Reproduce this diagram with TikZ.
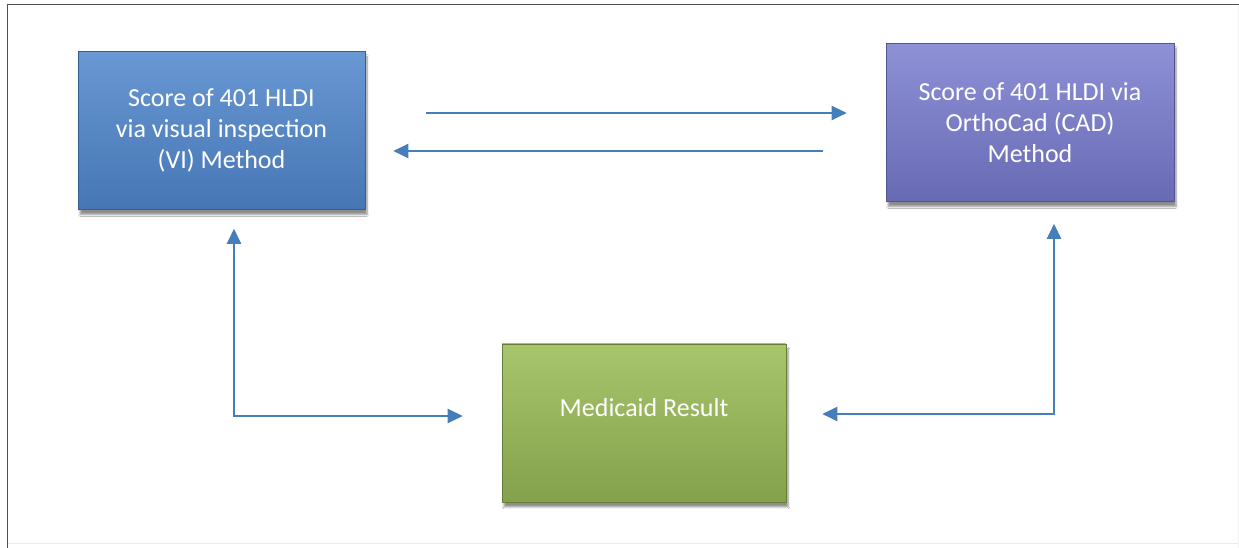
\documentclass[tikz,border=0pt]{standalone}
\usepackage{fontspec}
\setmainfont{Carlito}
\usetikzlibrary{arrows.meta,shadows.blur,calc}
\definecolor{vibox}{RGB}{84,138,205}
\definecolor{viboxd}{RGB}{70,118,180}
\definecolor{cadbox}{RGB}{126,130,208}
\definecolor{cadboxd}{RGB}{104,106,180}
\definecolor{medbox}{RGB}{160,192,95}
\definecolor{medboxd}{RGB}{128,158,72}
\definecolor{arrowblue}{RGB}{70,126,187}
\definecolor{framegray}{RGB}{80,80,80}
\tikzset{
  x=1pt,y=1pt,
  boxstyle/.style={rectangle, minimum width=287pt, minimum height=158pt,
    inner sep=0pt, text=white, align=center,
    font=\fontsize{26}{31}\selectfont,
    blur shadow={shadow xshift=2pt, shadow yshift=-5pt, shadow blur steps=6, shadow opacity=45}},
  conn/.style={draw=arrowblue, line width=2.4pt, -{Triangle[length=15pt,width=14pt]}},
  conn2/.style={draw=arrowblue, line width=2.4pt, {Triangle[length=15pt,width=14pt]}-{Triangle[length=15pt,width=14pt]}},
}
\begin{document}
\begin{tikzpicture}
\useasboundingbox (0,0) rectangle (1239,548);
\fill[white] (0,0) rectangle (1239,548);
% frame
\draw[framegray, line width=1.4pt] (7.5,0) -- (7.5,543.3) -- (1239,543.3);
\draw[black!8, line width=1pt] (7.5,4) -- (1239,4);
\draw[black!6, line width=1pt] (1238,0) -- (1238,543);
% boxes
\node[boxstyle, minimum width=287pt, top color=vibox!88!white, bottom color=viboxd, draw=viboxd!80!black, line width=0.6pt] (L) at (221.5,417.5)
  {Score of 401 HLDI\\via visual inspection\\(VI) Method};
\node[boxstyle, minimum width=288pt, top color=cadbox!88!white, bottom color=cadboxd, draw=cadboxd!80!black, line width=0.6pt] (R) at (1030,425.5)
  {Score of 401 HLDI via\\OrthoCad (CAD)\\Method};
\node[boxstyle, minimum width=284pt, top color=medbox!92!white, bottom color=medboxd!90!medbox, draw=medboxd!80!black, line width=0.6pt] (B) at (644,125)
  {};
\node[text=white, font=\fontsize{26}{31}\selectfont, inner sep=0pt] (Bt) at ([yshift=15pt]B.center) {Medicaid Result};
% arrows
\draw[conn] ([xshift=61pt,yshift=17.5pt]L.east) -- ([xshift=-39pt,yshift=9.5pt]R.west);
\draw[conn] ([xshift=-63pt,yshift=-28.5pt]R.west) -- ([xshift=28pt,yshift=-20.5pt]L.east);
\draw[conn2] ([xshift=12.5pt,yshift=-19pt]L.south) |- ([xshift=-39pt,yshift=7pt]B.west);
\draw[conn2] ([xshift=36pt,yshift=9pt]B.east) -| ([xshift=24pt,yshift=-22pt]R.south);
\end{tikzpicture}
\end{document}
